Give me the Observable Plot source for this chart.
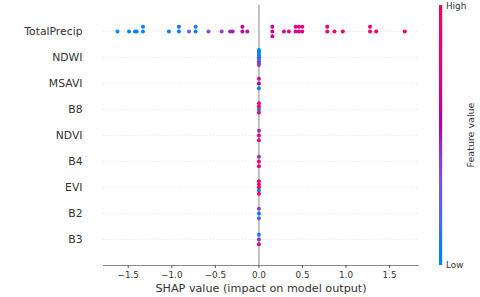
<!DOCTYPE html>
<html>
<head>
<meta charset="utf-8">
<script src="https://cdn.jsdelivr.net/npm/d3@7"></script>
<script src="https://cdn.jsdelivr.net/npm/@observablehq/plot@0.6"></script>
<style>
  html, body { margin: 0; padding: 0; background: #fff; }
  #chart { width: 480px; height: 297px; }
</style>
</head>
<body>
<div id="chart"></div>
<script>
// Features, top to bottom
const features = ["TotalPrecip", "NDWI", "MSAVI", "B8", "NDVI", "B4", "EVI", "B2", "B3"];

// SHAP values per feature
const shapTotalPrecip = [-1.624, -1.491, -1.422, -1.403, -1.331, -1.331, -1.033, -0.918, -0.918, -0.803,
  -0.726, -0.726, -0.580, -0.428, -0.330, -0.302, -0.190, -0.190, -0.133,
  0.154, 0.154, 0.154, 0.287, 0.344, 0.421, 0.421, 0.459, 0.459, 0.498, 0.498,
  0.784, 0.784, 0.868, 0.963, 1.275, 1.275, 1.346, 1.674];
const featTotalPrecip = [0.00, 0.02, 0.03, 0.03, 0.02, 0.05, 0.05, 0.05, 0.08, 0.25,
  0.10, 0.12, 0.33, 0.42, 0.48, 0.50, 0.55, 0.58, 0.50,
  0.66, 0.70, 0.68, 0.70, 0.72, 0.74, 0.76, 0.75, 0.78, 0.77, 0.78,
  0.88, 0.88, 0.90, 0.92, 0.95, 0.95, 0.96, 1.00];

const shapNDWI  = [0, 0, 0, 0, 0, 0, 0, 0, 0];
const featNDWI  = [0.75, 0.05, 0.10, 0.00, 0.15, 0.05, 0.45, 0.00, 0.40];
const shapMSAVI = [0, 0, 0];
const featMSAVI = [0.55, 0.75, 0.10];
const shapB8    = [0, 0, 0, 0];
const featB8    = [0.10, 0.90, 0.75, 0.75];
const shapNDVI  = [0, 0, 0];
const featNDVI  = [0.75, 0.45, 0.85];
const shapB4    = [0, 0, 0];
const featB4    = [0.90, 0.45, 0.75];
const shapEVI   = [0, 0, 0, 0, 0];
const featEVI   = [0.85, 0.95, 0.10, 0.90, 0.90];
const shapB2    = [0, 0, 0];
const featB2    = [0.10, 0.40, 0.15];
const shapB3    = [0, 0, 0];
const featB3    = [0.45, 0.05, 0.70];

const shapByFeature = [shapTotalPrecip, shapNDWI, shapMSAVI, shapB8, shapNDVI, shapB4, shapEVI, shapB2, shapB3];
const featByFeature = [featTotalPrecip, featNDWI, featMSAVI, featB8, featNDVI, featB4, featEVI, featB2, featB3];

const xTicks = [-1.5, -1.0, -0.5, 0.0, 0.5, 1.0, 1.5];

// SHAP-style red_blue colormap (LCh interpolation)
function shapColor(t) {
  const h = 266.93 + t * (380.32 - 266.93);
  const c = 70 + t * 20;
  const l = t < 0.5 ? 54 + (40 - 54) * (t * 2) : 40 + (54 - 40) * ((t - 0.5) * 2);
  return d3.hcl(h, c, l).formatHex();
}

// beeswarm vertical offsets, as in shap's summary plot
function beeswarm(vals) {
  const n = vals.length, nbins = 100;
  const mn = d3.min(vals), mx = d3.max(vals);
  const quant = vals.map(v => Math.round(nbins * (v - mn) / (mx - mn + 1e-8)));
  const inds = d3.range(n).sort((a, b) => quant[a] - quant[b] || a - b);
  let layer = 0, last = -1;
  const ys = new Array(n).fill(0);
  for (const ind of inds) {
    if (quant[ind] !== last) layer = 0;
    ys[ind] = Math.ceil(layer / 2) * ((layer % 2) * 2 - 1);
    layer++;
    last = quant[ind];
  }
  const m = d3.max(ys, y => y + 1);
  return ys.map(y => y * 0.9 * (0.4 / m));
}

const N = features.length;
const rows = [];
features.forEach((f, i) => {
  const pos = N - 1 - i;
  const vals = shapByFeature[i], cols = featByFeature[i];
  const ys = beeswarm(vals);
  vals.forEach((v, j) => rows.push({feature: f, shap: v, fv: cols[j], y: pos + ys[j]}));
});

const fmt = d => (d < 0 ? "\u2212" : "") + Math.abs(d).toFixed(1);

const plot = Plot.plot({
  width: 480,
  height: 297,
  marginLeft: 103,
  marginRight: 61,
  marginTop: 5,
  marginBottom: 32,
  style: {fontFamily: "DejaVu Sans", background: "#fff", color: "#333"},
  x: {domain: [-1.784, 1.843], axis: null},
  y: {domain: [-1, N], axis: null},
  color: {type: "linear", domain: [0, 1], interpolate: shapColor},
  marks: [
    Plot.ruleY(d3.range(N), {stroke: "#cccccc", strokeWidth: 0.7, strokeDasharray: "0.7,2.2"}),
    Plot.ruleX([0], {stroke: "#999999", strokeWidth: 1.2}),
    Plot.dot(rows, {x: "shap", y: "y", fill: "fv", r: 2}),
    Plot.ruleY([-1], {stroke: "#8a8a8a", strokeWidth: 1}),
    Plot.axisX({ticks: xTicks, tickFormat: fmt, tickSize: 3, tickPadding: 3, fontSize: 8.8,
      stroke: "#555", fill: "#333", label: null}),
    Plot.axisY({ticks: d3.range(N), tickFormat: i => features[N - 1 - i], tickSize: 0, tickPadding: 21,
      fontSize: 10.8, fill: "#333", label: null})
  ]
});

document.getElementById("chart").appendChild(plot);

// x-axis title and colorbar
const svg = d3.select(plot);
svg.append("text")
  .attr("x", 261).attr("y", 291.5)
  .attr("text-anchor", "middle")
  .attr("font-size", 11.2).attr("fill", "#333")
  .attr("font-family", "DejaVu Sans")
  .text("SHAP value (impact on model output)");

const defs = svg.append("defs");
const grad = defs.append("linearGradient").attr("id", "cbgrad")
  .attr("x1", 0).attr("y1", 1).attr("x2", 0).attr("y2", 0);
d3.range(0, 1.0001, 0.05).forEach(t => {
  grad.append("stop").attr("offset", t).attr("stop-color", shapColor(t));
});
const cbTop = 5, cbBottom = 265;
svg.append("rect")
  .attr("x", 439).attr("y", cbTop).attr("width", 3.2).attr("height", cbBottom - cbTop)
  .attr("fill", "url(#cbgrad)");
svg.append("text").attr("x", 446).attr("y", cbTop + 1).attr("dy", "0.35em")
  .attr("text-anchor", "start")
  .attr("font-size", 8.8).attr("fill", "#333").attr("font-family", "DejaVu Sans").text("High");
svg.append("text").attr("x", 446).attr("y", cbBottom).attr("dy", "0.35em")
  .attr("text-anchor", "start")
  .attr("font-size", 8.8).attr("fill", "#333").attr("font-family", "DejaVu Sans").text("Low");
svg.append("text")
  .attr("transform", "translate(471,135) rotate(-90)")
  .attr("text-anchor", "middle").attr("dy", "0.35em")
  .attr("font-size", 9.5).attr("fill", "#333").attr("font-family", "DejaVu Sans")
  .text("Feature value");
</script>
</body>
</html>
